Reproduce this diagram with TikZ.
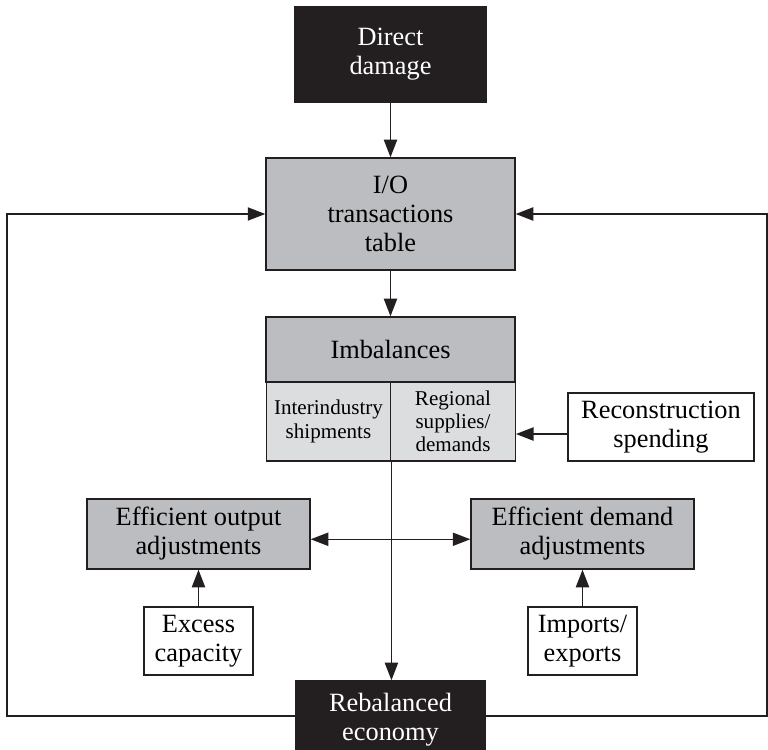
\documentclass[tikz,border=0pt]{standalone}
\usepackage{fontspec}
\setmainfont{Liberation Serif}
\usepackage{tikz}
\usetikzlibrary{arrows.meta, positioning, calc}

\definecolor{boxgray}{RGB}{188,189,192}
\definecolor{lightgray}{RGB}{220,221,223}
\definecolor{inkblack}{RGB}{35,31,32}

\begin{document}
\begin{tikzpicture}[
    x=0.02cm, y=-0.02cm,
    every node/.style={font=\fontsize{15}{16.5}\selectfont},
    darkbox/.style={rectangle, draw=inkblack, fill=inkblack, text=white, align=center,
                    line width=0.8pt, inner sep=2pt},
    graybox/.style={rectangle, draw=inkblack, fill=boxgray, align=center,
                    line width=0.8pt, inner sep=2pt},
    subbox/.style={rectangle, draw=inkblack, fill=lightgray, align=center,
                   line width=0.8pt, inner sep=1pt, minimum width=2.49cm, minimum height=1.58cm,
                   font=\fontsize{12}{13.2}\selectfont},
    inbox/.style={rectangle, draw=inkblack, fill=white, align=center,
                  line width=0.8pt, inner sep=2pt},
    arrow/.style={-{Triangle[length=10pt, width=7.5pt]}, line width=0.85pt, draw=inkblack},
    dblarrow/.style={{Triangle[length=10pt, width=7.5pt]}-{Triangle[length=10pt, width=7.5pt]},
                     line width=0.85pt, draw=inkblack}
]
\useasboundingbox (0,0) rectangle (768,750);

% === Top: damage and I/O table ===
\node[darkbox, minimum width=3.82cm, minimum height=1.9cm] (damage) at (390.5, 54.5)
    {Direct\\damage};
\node[graybox, minimum width=4.98cm, minimum height=2.24cm] (io) at (390.5, 214)
    {I/O\\transactions\\table};
\draw[arrow] (damage) -- (io);

% === Imbalances ===
\node[graybox, minimum width=4.98cm, minimum height=1.3cm] (imb) at (390.5, 349.5)
    {Imbalances};
\node[subbox] (inter) at (328.5, 421.5) {Interindustry\\shipments};
\node[subbox] (region) at (453, 421.5) {Regional\\supplies/\\demands};
\draw[arrow] (io) -- (imb);

\node[inbox, minimum width=3.72cm, minimum height=1.36cm] (recon) at (661, 427)
    {Reconstruction\\spending};
\draw[arrow] ([yshift=-4pt]recon.west) -- ([yshift=-4pt]recon.west -| region.east);

% === Adjustments ===
\node[graybox, minimum width=4.46cm, minimum height=1.4cm] (effout) at (198.5, 534)
    {Efficient output\\adjustments};
\node[graybox, minimum width=4.46cm, minimum height=1.4cm] (effdem) at (582.5, 534)
    {Efficient demand\\adjustments};
\draw[dblarrow] ([yshift=-3pt]effout.east) -- ([yshift=-3pt]effdem.west);

\node[inbox, minimum width=2.18cm, minimum height=1.36cm] (excess) at (198.5, 641)
    {Excess\\capacity};
\node[inbox, minimum width=2.18cm, minimum height=1.36cm] (imports) at (582.5, 641)
    {Imports/\\exports};
\draw[arrow] (excess) -- (effout);
\draw[arrow] (imports) -- (effdem);

% === Rebalanced economy and feedback ===
\node[darkbox, minimum width=3.78cm, minimum height=1.56cm] (rebal) at (390.5, 720)
    {Rebalanced\\economy};
\draw[arrow] (inter.south east) -- (inter.south east |- rebal.north);

\coordinate (lbot) at (7, 716);
\coordinate (rbot) at (767, 716);
\draw[arrow] (rebal.west |- lbot) -- (lbot) -- (lbot |- io.west) -- (io.west);
\draw[arrow] (rebal.east |- rbot) -- (rbot) -- (rbot |- io.east) -- (io.east);

\end{tikzpicture}
\end{document}
